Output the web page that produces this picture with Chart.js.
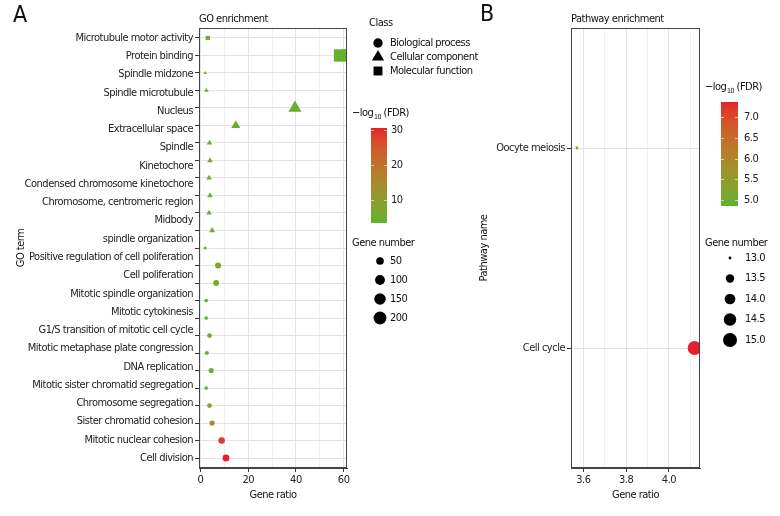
<!DOCTYPE html>
<html>
<head>
<meta charset="utf-8">
<script src="https://cdn.jsdelivr.net/npm/chart.js@4.4.1/dist/chart.umd.min.js"></script>
<style>
  body { margin: 0; background: #fff; }
  #wrap { position: relative; width: 780px; height: 516px; }
  canvas { position: absolute; top: 0; }
</style>
</head>
<body>
<div id="wrap">
  <canvas id="goChart" width="500" height="516" style="left:0"></canvas>
  <canvas id="pathChart" width="310" height="516" style="left:470px"></canvas>
</div>
<script>
// ---- GO enrichment data (rows top to bottom) ----
const goLabels = [
  'Microtubule motor activity', 'Protein binding', 'Spindle midzone', 'Spindle microtubule',
  'Nucleus', 'Extracellular space', 'Spindle', 'Kinetochore', 'Condensed chromosome kinetochore',
  'Chromosome, centromeric region', 'Midbody', 'spindle organization',
  'Positive regulation of cell poliferation', 'Cell poliferation', 'Mitotic spindle organization',
  'Mitotic cytokinesis', 'G1/S transition of mitotic cell cycle', 'Mitotic metaphase plate congression',
  'DNA replication', 'Mitotic sister chromatid segregation', 'Chromosome segregation',
  'Sister chromatid cohesion', 'Mitotic nuclear cohesion', 'Cell division'
];
const goClass = ['MF', 'MF', 'CC', 'CC', 'CC', 'CC', 'CC', 'CC', 'CC', 'CC', 'CC', 'CC',
  'BP', 'BP', 'BP', 'BP', 'BP', 'BP', 'BP', 'BP', 'BP', 'BP', 'BP', 'BP', 'BP'];
const goRatio = [3.1, 58.5, 2.0, 2.5, 39.6, 14.8, 3.8, 4.0, 3.6, 4.0, 3.6, 4.9,
  2.0, 7.4, 6.6, 2.4, 2.4, 3.8, 2.7, 4.5, 2.4, 3.8, 4.9, 8.9, 10.7];
const goGenes = [11, 205, 7, 9, 139, 52, 13, 14, 13, 14, 13, 17,
  7, 26, 23, 8, 8, 13, 9, 16, 8, 13, 17, 31, 37];
const goFdr = [4.5, 4.0, 3.8, 4.2, 4.6, 4.4, 5.6, 5.8, 5.4, 5.9, 5.2, 6.4,
  3.4, 7.5, 6.8, 4.1, 4.0, 5.0, 4.3, 6.1, 4.2, 5.3, 14.0, 28.5, 30.6];
const goXTicks = [0, 20, 40, 60];
const goFdrTicks = [10, 20, 30];
const goSizeTicks = [50, 100, 150, 200];

// ---- Pathway enrichment data ----
const pathLabels = ['Oocyte meiosis', 'Cell cycle'];
const pathRatio = [3.57, 4.12];
const pathGenes = [13, 15];
const pathFdr = [4.86, 7.36];
const pathXTicks = [3.6, 3.8, 4.0];
const pathFdrTicks = [5.0, 5.5, 6.0, 6.5, 7.0];
const pathSizeTicks = [13.0, 13.5, 14.0, 14.5, 15.0];

const classNames = { BP: 'Biological process', CC: 'Cellular component', MF: 'Molecular function' };
const classShape = { BP: 'circle', CC: 'triangle', MF: 'rect' };
const shapeFactor = { circle: 1, triangle: 1.35, rect: 1.35 };

const FONT = "'DejaVu Sans Condensed', 'DejaVu Sans', sans-serif";
const FS = 11;
const SPACING = '-0.5px';
const LOW = [96, 178, 47], HIGH = [229, 32, 42];

// colour interpolation in Lab space (like ggplot's gradient)
function lin(c) { c /= 255; return c <= 0.04045 ? c / 12.92 : Math.pow((c + 0.055) / 1.055, 2.4); }
function gam(c) { c = c <= 0.0031308 ? 12.92 * c : 1.055 * Math.pow(c, 1 / 2.4) - 0.055; return Math.round(Math.max(0, Math.min(1, c)) * 255); }
function toLab(rgb) {
  const [r, g, b] = rgb.map(lin);
  let x = (0.4124 * r + 0.3576 * g + 0.1805 * b) / 0.95047;
  let y = 0.2126 * r + 0.7152 * g + 0.0722 * b;
  let z = (0.0193 * r + 0.1192 * g + 0.9505 * b) / 1.08883;
  const f = t => t > 0.008856 ? Math.cbrt(t) : 7.787 * t + 16 / 116;
  x = f(x); y = f(y); z = f(z);
  return [116 * y - 16, 500 * (x - y), 200 * (y - z)];
}
function fromLab([L, a, bb]) {
  let y = (L + 16) / 116, x = a / 500 + y, z = y - bb / 200;
  const fi = t => t * t * t > 0.008856 ? t * t * t : (t - 16 / 116) / 7.787;
  x = fi(x) * 0.95047; y = fi(y); z = fi(z) * 1.08883;
  const r = 3.2406 * x - 1.5372 * y - 0.4986 * z;
  const g = -0.9689 * x + 1.8758 * y + 0.0415 * z;
  const b = 0.0557 * x - 0.2040 * y + 1.0570 * z;
  return 'rgb(' + gam(r) + ',' + gam(g) + ',' + gam(b) + ')';
}
const labLow = toLab(LOW), labHigh = toLab(HIGH);
function colorAt(t) {
  t = Math.max(0, Math.min(1, t));
  return fromLab(labLow.map((v, i) => v + (labHigh[i] - v) * t));
}
function makeColor(values) {
  const lo = Math.min(...values), hi = Math.max(...values);
  return v => colorAt((v - lo) / (hi - lo));
}
function makeSize(values, dMin, dMax) {
  const lo = Math.min(...values), hi = Math.max(...values);
  return v => (dMin + (dMax - dMin) * Math.sqrt(Math.max(0, (v - lo) / (hi - lo)))) / 2;
}

function shape(ctx, style, x, y, r) {
  ctx.beginPath();
  if (style === 'circle') {
    ctx.arc(x, y, r, 0, Math.PI * 2);
  } else if (style === 'triangle') {
    ctx.moveTo(x, y - r);
    ctx.lineTo(x + r * 0.866, y + r / 2);
    ctx.lineTo(x - r * 0.866, y + r / 2);
    ctx.closePath();
  } else {
    const s = r * Math.SQRT1_2;
    ctx.rect(x - s, y - s, 2 * s, 2 * s);
  }
  ctx.fill();
}

function fdrTitle(ctx, x, y) {
  ctx.textAlign = 'left';
  ctx.textBaseline = 'middle';
  ctx.font = FS + 'px ' + FONT;
  ctx.fillText('\u2212log', x, y);
  let w = ctx.measureText('\u2212log').width;
  ctx.font = '7px ' + FONT;
  ctx.fillText('10', x + w + 0.5, y + 4);
  w += ctx.measureText('10').width + 0.5;
  ctx.font = FS + 'px ' + FONT;
  ctx.fillText(' (FDR)', x + w, y);
}

function colorbar(ctx, values, ticks, x, top, w, bottom, labelX, digits) {
  const lo = Math.min(...values), hi = Math.max(...values);
  const g = ctx.createLinearGradient(0, bottom, 0, top);
  for (let i = 0; i <= 20; i++) g.addColorStop(i / 20, colorAt(i / 20));
  ctx.fillStyle = g;
  ctx.fillRect(x, top, w, bottom - top);
  ctx.font = FS + 'px ' + FONT;
  ctx.textAlign = 'left';
  ctx.textBaseline = 'middle';
  ticks.forEach(t => {
    const y = Math.round(bottom - (t - lo) / (hi - lo) * (bottom - top)) + 0.5;
    ctx.strokeStyle = 'rgba(255,255,255,0.6)';
    ctx.lineWidth = 1;
    ctx.beginPath();
    ctx.moveTo(x, y); ctx.lineTo(x + 3, y);
    ctx.moveTo(x + w - 3, y); ctx.lineTo(x + w, y);
    ctx.stroke();
    ctx.fillStyle = '#222';
    ctx.fillText(t.toFixed(digits), labelX, y);
  });
}

const goColor = makeColor(goFdr);
const goSize = makeSize(goGenes, 3, 13);
const pathColor = makeColor(pathFdr);
const pathSize = makeSize(pathGenes, 2.8, 14);

const goStyles = goClass.map(c => classShape[c]);

const spacing = {
  id: 'spacing',
  beforeDraw(chart) { chart.ctx.letterSpacing = SPACING; }
};

function border(ctx, a) {
  ctx.strokeStyle = '#444';
  ctx.lineWidth = 1;
  ctx.strokeRect(Math.round(a.left) + 0.5, Math.round(a.top) + 0.5, Math.round(a.right - a.left) - 1, Math.round(a.bottom - a.top) - 1);
}

const goDecor = {
  id: 'goDecor',
  afterDraw(chart) {
    const ctx = chart.ctx, a = chart.chartArea;
    ctx.save();
    border(ctx, a);
    ctx.fillStyle = '#111';
    ctx.textBaseline = 'middle';
    ctx.textAlign = 'left';
    ctx.font = '23px ' + FONT;
    ctx.fillText('A', 13, 16);
    ctx.font = FS + 'px ' + FONT;
    ctx.fillText('GO enrichment', a.left, 19);
    // class legend
    ctx.fillText('Class', 369, 23);
    ['BP', 'CC', 'MF'].forEach((c, i) => {
      const y = 43 + i * 14;
      ctx.fillStyle = '#000';
      shape(ctx, classShape[c], 378, y, 5.2 * shapeFactor[classShape[c]] * (c === 'CC' ? 1 : 0.9));
      ctx.fillStyle = '#111';
      ctx.fillText(classNames[c], 390, y);
    });
    // colour legend
    ctx.fillStyle = '#111';
    fdrTitle(ctx, 352, 113);
    colorbar(ctx, goFdr, goFdrTicks, 371, 128, 16, 223, 391, 0);
    // size legend
    ctx.fillStyle = '#111';
    ctx.fillText('Gene number', 352, 243);
    goSizeTicks.forEach((s, i) => {
      const y = 261 + i * 19;
      ctx.fillStyle = '#000';
      shape(ctx, 'circle', 380, y, goSize(s));
      ctx.fillStyle = '#111';
      ctx.fillText(String(s), 390, y);
    });
    ctx.restore();
  }
};

const pathDecor = {
  id: 'pathDecor',
  afterDraw(chart) {
    const ctx = chart.ctx, a = chart.chartArea;
    const ox = -470;
    ctx.save();
    border(ctx, a);
    ctx.fillStyle = '#111';
    ctx.textBaseline = 'middle';
    ctx.textAlign = 'left';
    ctx.font = '23px ' + FONT;
    ctx.fillText('B', 480 + ox, 15);
    ctx.font = FS + 'px ' + FONT;
    ctx.fillText('Pathway enrichment', a.left, 19);
    fdrTitle(ctx, 705 + ox, 87);
    colorbar(ctx, pathFdr, pathFdrTicks, 721 + ox, 102, 17, 206, 744 + ox, 1);
    ctx.fillStyle = '#111';
    ctx.fillText('Gene number', 705 + ox, 243);
    pathSizeTicks.forEach((s, i) => {
      const y = 258 + i * 20.5;
      ctx.fillStyle = '#000';
      shape(ctx, 'circle', 730 + ox, y, pathSize(s));
      ctx.fillStyle = '#111';
      ctx.fillText(s.toFixed(1), 745 + ox, y);
    });
    ctx.restore();
  }
};

const tickFont = { family: FONT, size: FS };

new Chart(document.getElementById('goChart'), {
  type: 'scatter',
  data: {
    datasets: [{
      data: goRatio.map((v, i) => ({ x: v, y: i })),
      pointStyle: goStyles,
      pointRadius: goGenes.map((g, i) => goSize(g) * shapeFactor[goStyles[i]]),
      pointHoverRadius: goGenes.map((g, i) => goSize(g) * shapeFactor[goStyles[i]]),
      backgroundColor: goFdr.map(goColor),
      borderWidth: 0
    }]
  },
  options: {
    responsive: false,
    animation: false,
    layout: { padding: { left: 0, right: 153, top: 28, bottom: 0 } },
    plugins: { legend: { display: false }, tooltip: { enabled: false } },
    scales: {
      x: {
        type: 'linear', min: -0.6, max: 61.4,
        ticks: { stepSize: 10, includeBounds: false, autoSkip: false, padding: 2, color: '#222', font: tickFont,
          callback: v => goXTicks.includes(v) ? String(v) : '' },
        grid: { color: ctx => (ctx.tick && goXTicks.includes(ctx.tick.value)) ? '#e4e4e4' : '#efefef',
          tickLength: 4, tickColor: ctx => (ctx.tick && goXTicks.includes(ctx.tick.value)) ? '#333' : 'rgba(0,0,0,0)' },
        border: { color: '#444' },
        title: { display: true, text: 'Gene ratio', color: '#111', font: tickFont, padding: { top: 0, bottom: 14 } },
        afterFit: s => { s.height = 48; }
      },
      y: {
        type: 'linear', reverse: true, min: -0.57, max: 24.57,
        ticks: { stepSize: 1, includeBounds: false, autoSkip: false, callback: () => '' },
        grid: { color: '#e4e4e4', tickLength: 4, tickColor: '#333' },
        border: { color: '#444' },
        afterFit: s => { s.width = 6; }
      },
      yLab: {
        type: 'linear', position: 'left', weight: 1, reverse: true, min: -0.548, max: 23.548,
        ticks: { stepSize: 1, includeBounds: false, autoSkip: false, padding: 0, color: '#222', font: tickFont,
          callback: v => goLabels[v] },
        grid: { display: false, drawTicks: false },
        border: { display: false },
        title: { display: true, text: 'GO term', color: '#111', font: tickFont, padding: { top: 15, bottom: 0 } },
        afterFit: s => { s.width = 193; }
      }
    }
  },
  plugins: [spacing, goDecor]
});

new Chart(document.getElementById('pathChart'), {
  type: 'scatter',
  data: {
    datasets: [{
      data: pathRatio.map((v, i) => ({ x: v, y: i })),
      pointStyle: 'circle',
      pointRadius: pathGenes.map(pathSize),
      pointHoverRadius: pathGenes.map(pathSize),
      backgroundColor: pathFdr.map(pathColor),
      borderWidth: 0
    }]
  },
  options: {
    responsive: false,
    animation: false,
    layout: { padding: { left: 0, right: 80, top: 28, bottom: 0 } },
    plugins: { legend: { display: false }, tooltip: { enabled: false } },
    scales: {
      x: {
        type: 'linear', min: 3.542, max: 4.145,
        ticks: { stepSize: 0.1, includeBounds: false, autoSkip: false, padding: 2, color: '#222', font: tickFont,
          callback: v => pathXTicks.some(t => Math.abs(t - v) < 1e-6) ? v.toFixed(1) : '' },
        grid: { color: ctx => (ctx.tick && pathXTicks.some(t => Math.abs(t - ctx.tick.value) < 1e-6)) ? '#e4e4e4' : '#efefef',
          tickLength: 4, tickColor: ctx => (ctx.tick && pathXTicks.some(t => Math.abs(t - ctx.tick.value) < 1e-6)) ? '#333' : 'rgba(0,0,0,0)' },
        border: { color: '#444' },
        title: { display: true, text: 'Gene ratio', color: '#111', font: tickFont, padding: { top: 0, bottom: 14 } },
        afterFit: s => { s.height = 48; }
      },
      y: {
        type: 'linear', reverse: true, min: -0.6, max: 1.6,
        ticks: { stepSize: 1, includeBounds: false, autoSkip: false, padding: 2, color: '#222', font: tickFont,
          callback: v => pathLabels[v] },
        grid: { color: '#e4e4e4', tickLength: 4, tickColor: '#333' },
        border: { color: '#444' },
        title: { display: true, text: 'Pathway name', color: '#111', font: tickFont, padding: { top: 8, bottom: 0 } },
        afterFit: s => { s.width = 101; }
      }
    }
  },
  plugins: [spacing, pathDecor]
});
</script>
</body>
</html>
